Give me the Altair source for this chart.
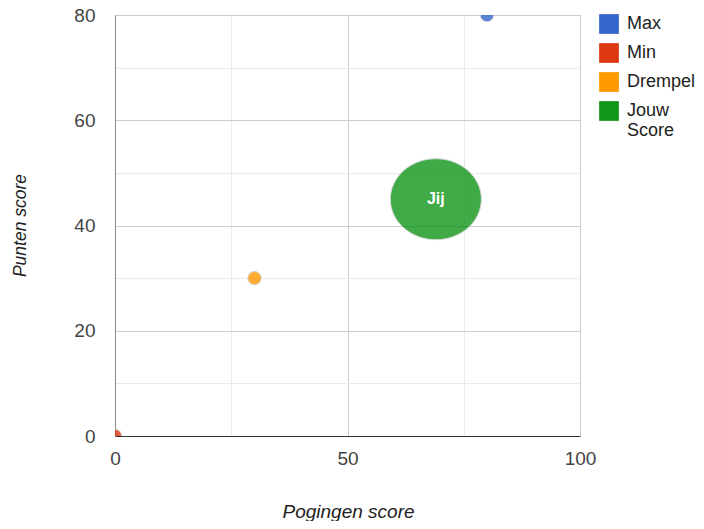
import altair as alt
import pandas as pd

series = ["Max", "Min", "Drempel", "Jouw Score"]
pogingen = [80, 0, 30, 69]
punten = [80, 0, 30, 45]
labels = ["", "", "", "Jij"]
colors = ["#3366cc", "#dc3912", "#ff9900", "#109618"]

df = pd.DataFrame({"series": series, "x": pogingen, "y": punten, "label": labels})

FONT = "Liberation Sans, Arial, sans-serif"

xscale = alt.Scale(domain=[0, 100], nice=False, zero=True)
yscale = alt.Scale(domain=[0, 80], nice=False, zero=True)

color = alt.Color(
    "series:N",
    scale=alt.Scale(domain=series, range=colors),
    title=None,
    legend=alt.Legend(
        orient="none", legendX=484, legendY=-1,
        symbolType="square", symbolSize=390, symbolOpacity=1,
        symbolStrokeWidth=0, labelFont=FONT, labelFontSize=18,
        labelColor="#222", labelOffset=8, rowPadding=9,
        labelExpr="datum.label == 'Jouw Score' ? ['Jouw', 'Score'] : datum.label",
        labelLimit=200,
    ),
)

xaxis = alt.Axis(
    values=[0, 25, 50, 75, 100],
    labelExpr="datum.value % 50 == 0 ? datum.label : ''",
    title="Pogingen score", titleFont=FONT, titleFontSize=19,
    titleFontStyle="italic", titleFontWeight="normal", titleColor="#222",
    titleX=233, titleY=75, titleBaseline="middle", titleAlign="center",
    labelFont=FONT, labelFontSize=19, labelColor="#444", labelPadding=13,
    ticks=False, tickSize=0, domainColor="#333", grid=True,
    gridColor={"condition": {"test": "datum.value % 50 === 0", "value": "#cccccc"}, "value": "#ebebeb"},
    labelFlush=False, labelOverlap=False,
)
yaxis = alt.Axis(
    values=[0, 10, 20, 30, 40, 50, 60, 70, 80],
    labelExpr="datum.value % 20 == 0 ? datum.label : ''",
    title="Punten score", titleFont=FONT, titleFontSize=17.5,
    titleFontStyle="italic", titleFontWeight="normal", titleColor="#222",
    titleX=-95, titleY=210, titleBaseline="middle", titleAlign="center",
    labelFont=FONT, labelFontSize=19, labelColor="#444", labelPadding=20,
    ticks=False, tickSize=0, domainColor="#888", grid=True,
    gridColor={"condition": {"test": "datum.value % 20 === 0", "value": "#cccccc"}, "value": "#ebebeb"},
    labelFlush=False, labelOverlap=False,
)

base = alt.Chart(df)

small = base.transform_filter("datum.series != 'Jouw Score'").mark_point(
    filled=True, shape="circle", size=180, opacity=0.8,
    stroke="#cccccc", strokeWidth=1, clip=True,
).encode(
    x=alt.X("x:Q", scale=xscale, axis=xaxis),
    y=alt.Y("y:Q", scale=yscale, axis=yaxis),
    color=color,
)

big = base.transform_filter("datum.series == 'Jouw Score'").mark_point(
    filled=True,
    shape="M -1 0 A 1 0.89 0 1 1 1 0 A 1 0.89 0 1 1 -1 0 Z",
    size=8281, opacity=0.8, stroke="#cccccc", strokeWidth=1,
).encode(
    x=alt.X("x:Q", scale=xscale),
    y=alt.Y("y:Q", scale=yscale),
    color=color,
)

text = base.transform_filter("datum.label != ''").mark_text(
    font=FONT, fontSize=16, fontWeight="bold", color="white",
    baseline="middle", align="center",
).encode(
    x=alt.X("x:Q", scale=xscale),
    y=alt.Y("y:Q", scale=yscale),
    text="label:N",
)

chart = alt.layer(small, big, text).properties(
    width=465, height=421,
    autosize=alt.AutoSizeParams(type="none"),
    padding={"left": 107, "top": 7, "right": 116, "bottom": 85},
).configure_view(strokeWidth=0).configure(background="white")

chart.save("out.html", embed_options={"renderer": "svg", "actions": False})
